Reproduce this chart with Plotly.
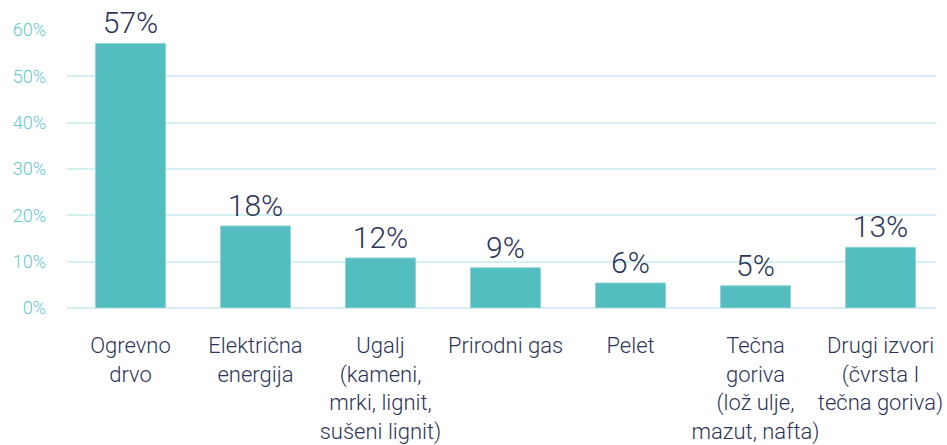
import plotly.graph_objects as go

categories = [
    "Ogrevno<br>drvo",
    "Električna<br>energija",
    "Ugalj<br>(kameni,<br>mrki, lignit,<br>sušeni lignit)",
    "Prirodni gas",
    "Pelet",
    "Tečna<br>goriva<br>(lož ulje,<br>mazut, nafta)",
    "Drugi izvori<br>(čvrsta I<br>tečna goriva)",
]
values = [57.1, 17.7, 10.8, 8.7, 5.4, 4.8, 13.1]
value_labels = ["57%", "18%", "12%", "9%", "6%", "5%", "13%"]
y_tickvals = [0, 10, 20, 30, 40, 50, 60]
y_ticktext = ["0%", "10%", "20%", "30%", "40%", "50%", "60%"]

NAVY = "#2c3557"
TEAL_TICK = "#62c9ce"
GRID = "#d6eff2"

fig = go.Figure()
fig.add_trace(go.Bar(
    x=list(range(len(categories))),
    y=values,
    text=value_labels,
    textposition="outside",
    constraintext="none",
    cliponaxis=False,
    textfont=dict(family="Roboto", size=30, color=NAVY, weight=300),
    marker=dict(color="#53bdc0", line=dict(color="#93d5d7", width=1)),
    width=0.56,
    hoverinfo="skip",
))

fig.update_layout(
    width=947, height=445,
    margin=dict(l=67, r=11, t=30, b=137),
    paper_bgcolor="white",
    plot_bgcolor="white",
    showlegend=False,
    font=dict(family="Roboto", color=NAVY),
    xaxis=dict(
        tickmode="array",
        tickvals=list(range(len(categories))),
        ticktext=categories,
        range=[-0.508, 6.444],
        automargin=False,
        showgrid=False, zeroline=False, showline=False,
        ticks="", ticklabelstandoff=22,
        tickfont=dict(family="Roboto", size=22, color=NAVY, weight=300),
        tickangle=0,
    ),
    yaxis=dict(
        range=[0, 60],
        tickmode="array",
        tickvals=y_tickvals,
        ticktext=y_ticktext,
        automargin=False,
        showgrid=True, gridcolor=GRID, gridwidth=2,
        zeroline=True, zerolinecolor=GRID, zerolinewidth=2,
        showline=False, ticks="", ticklabelstandoff=20,
        tickfont=dict(family="Roboto", size=18, color=TEAL_TICK, weight=300),
    ),
)

fig.write_html("out.html")
